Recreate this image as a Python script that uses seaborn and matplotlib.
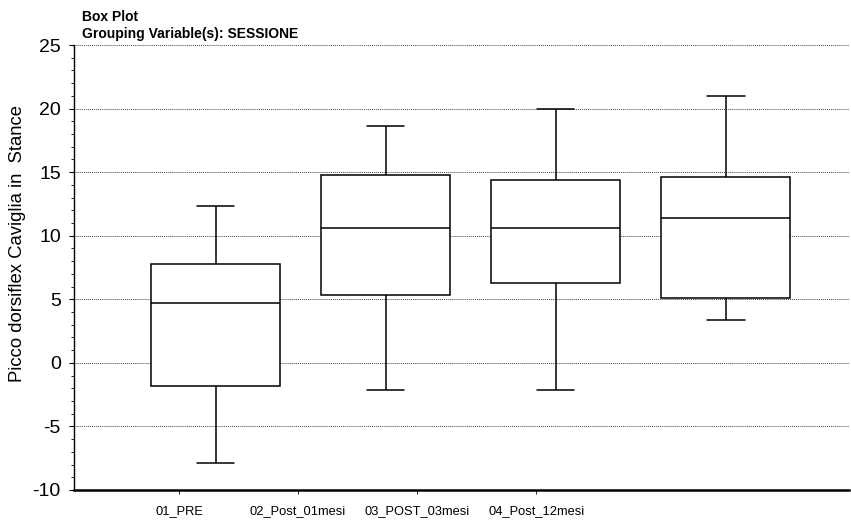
import numpy as np
import pandas as pd
import matplotlib
matplotlib.use("Agg")
import matplotlib.pyplot as plt
import seaborn as sns
from matplotlib.ticker import MultipleLocator

# ---- data (five-number summaries) ----
categories = ["01_PRE", "02_Post_01mesi", "03_POST_03mesi", "04_Post_12mesi"]
pre_vals = [-7.9, -1.8, 4.7, 7.8, 12.3]
post01_vals = [-2.1, 5.3, 10.6, 14.8, 18.6]
post03_vals = [-2.1, 6.3, 10.6, 14.4, 20.0]
post12_vals = [3.4, 5.1, 11.4, 14.6, 21.0]
y_ticks = [-10, -5, 0, 5, 10, 15, 20, 25]
y_label = "Picco dorsiflex Caviglia in  Stance"
title_lines = ["Box Plot", "Grouping Variable(s): SESSIONE"]

series = [pre_vals, post01_vals, post03_vals, post12_vals]
df = pd.DataFrame({
    "SESSIONE": np.repeat(categories, [len(s) for s in series]),
    "value": np.concatenate(series),
})

sns.set_theme(style="white")
plt.rcParams["font.family"] = ["Liberation Sans", "DejaVu Sans"]
plt.rcParams["axes.unicode_minus"] = False
plt.rcParams["text.color"] = "black"
plt.rcParams["axes.labelcolor"] = "black"
plt.rcParams["xtick.color"] = "black"
plt.rcParams["ytick.color"] = "black"

fig = plt.figure(figsize=(8.51, 5.24), dpi=100)
ax = fig.add_axes([0.087, 0.065, 0.911, 0.849])

lw = 1.1
sns.boxplot(
    data=df, x="SESSIONE", y="value", order=categories,
    whis=(0, 100), width=0.76, color="white", linecolor="black",
    linewidth=lw, showfliers=False, ax=ax,
    capwidths=0.22,
)
for p in ax.patches:
    p.set_facecolor("white")
    p.set_edgecolor("black")

ax.set_xlim(-0.832, 3.726)
ax.set_ylim(-10, 25)
ax.set_yticks(y_ticks)
ax.yaxis.set_minor_locator(MultipleLocator(1))
ax.tick_params(axis="y", which="major", direction="out", length=3.5, width=0.8,
               labelsize=14, left=True, pad=6, color="black", labelcolor="black")
ax.tick_params(axis="y", which="minor", direction="out", length=2.5, width=0.6,
               left=True, color="black")

# category labels (placed as in the reference, offset from the boxes)
label_pos = np.arange(len(categories)) * 0.70 - 0.215
ax.set_xticks(label_pos)
ax.set_xticklabels(categories, fontsize=9.3)
ax.tick_params(axis="x", direction="out", length=3, width=0.6, bottom=True,
               pad=8, color="black", labelcolor="black")
ax.set_xlabel("")
ax.set_ylabel(y_label, fontsize=13.3, color="black")
ax.yaxis.set_label_coords(-0.062, 0.553)

ax.grid(axis="y", which="major", linestyle=(0, (1, 1)), color="#444444",
        linewidth=0.7)
ax.set_axisbelow(True)
for s in ["top", "right"]:
    ax.spines[s].set_visible(False)
ax.spines["left"].set_color("black")
ax.spines["left"].set_linewidth(1.0)
ax.spines["bottom"].set_color("black")
ax.spines["bottom"].set_linewidth(1.8)

fig.text(0.096, 0.968, title_lines[0], fontsize=10, fontweight="bold",
         va="center", ha="left", color="black")
fig.text(0.096, 0.936, title_lines[1], fontsize=10, fontweight="bold",
         va="center", ha="left", color="black")

fig.savefig("out.png", dpi=100)
